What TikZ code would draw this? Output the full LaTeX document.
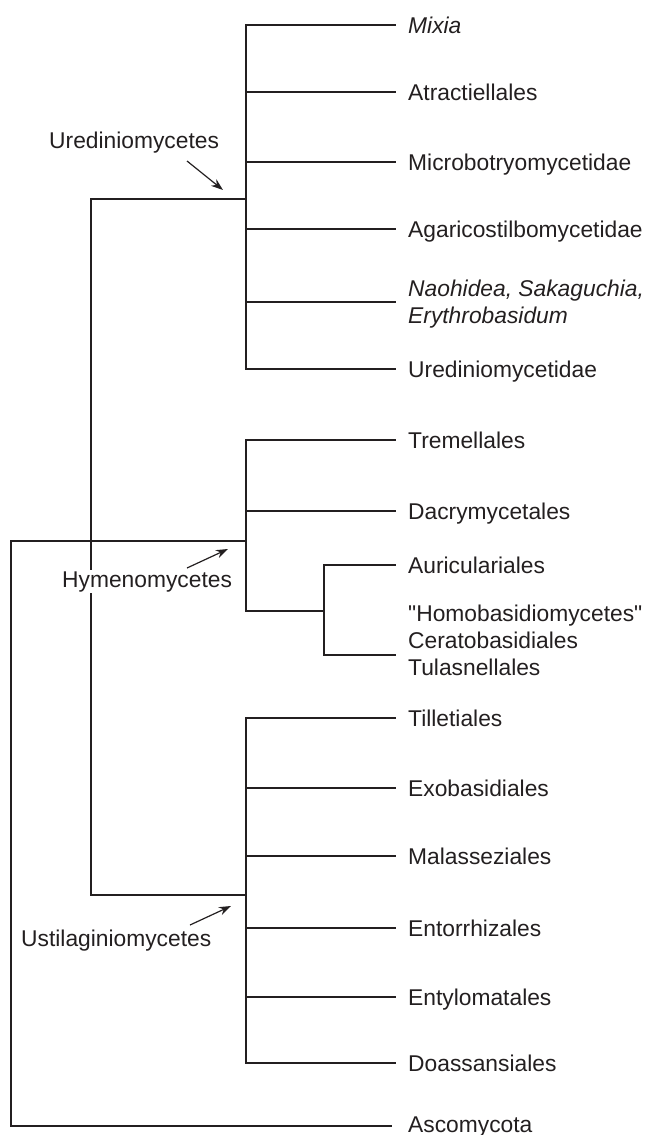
\documentclass[tikz,border=0pt]{standalone}
\usepackage{fontspec}
\setmainfont{Liberation Sans}[Ligatures=TeXOff]
\usetikzlibrary{arrows.meta}
\definecolor{ink}{HTML}{231F20}
\begin{document}
\begin{tikzpicture}[x=1pt,y=-1pt,
  branch/.style={draw=ink,line width=1.5pt,line cap=rect},
  taxon/.style={anchor=base west,inner sep=0pt,text=ink,align=left,
     font=\fontsize{22.8}{26.8}\selectfont},
  grouplabel/.style={anchor=base west,inner sep=1pt,fill=white,text=ink,
     font=\fontsize{22.8}{26.8}\selectfont},
  pointer/.style={draw=ink,line width=1.2pt,-{Stealth[length=12pt,width=8.5pt]}}]
\useasboundingbox (0,0) rectangle (645,1135);
% ---- leaf ends
\foreach \n/\y in {mix/25,atr/92,mic/162,aga/229,nao/302,ure/369,
  tre/440,dac/511,aur/565,hom/655,
  til/718,exo/788,mal/856,ent/928,ety/997,doa/1063}
  {\coordinate (\n) at (395,\y);}
\coordinate (asc) at (391,1126);
% ---- internal nodes
\coordinate (uredJ) at (246,199);
\coordinate (hymJ) at (246,541);
\coordinate (hsubJ) at (246,611);
\coordinate (subJ) at (324,611);
\coordinate (ustJ) at (246,895);
\coordinate (basJ) at (91,199);
\coordinate (rootT) at (11,541);
% ---- Urediniomycetes
\foreach \n in {mix,atr,mic,aga,nao,ure}
  \draw[branch] (uredJ |- \n) -- (\n);
\draw[branch] (uredJ |- mix) -- (uredJ |- ure);
% ---- Hymenomycetes
\foreach \n in {tre,dac}
  \draw[branch] (hymJ |- \n) -- (\n);
\draw[branch] (hymJ |- tre) -- (hsubJ) -- (subJ);
\draw[branch] (subJ |- aur) -- (aur);
\draw[branch] (subJ |- hom) -- (hom);
\draw[branch] (subJ |- aur) -- (subJ |- hom);
% ---- Ustilaginiomycetes
\foreach \n in {til,exo,mal,ent,ety,doa}
  \draw[branch] (ustJ |- \n) -- (\n);
\draw[branch] (ustJ |- til) -- (ustJ |- doa);
% ---- backbone
\draw[branch] (uredJ) -- (basJ) -- (basJ |- ustJ) -- (ustJ);
\draw[branch] (hymJ) -- (rootT) -- (rootT |- asc) -- (asc);
% ---- leaf labels
\node[taxon] (tmix) at (408,33) {\itshape Mixia};
\node[taxon] (tatr) at (408,100) {Atractiellales};
\node[taxon] (tmic) at (408,170) {Microbotryomycetidae};
\node[taxon] (taga) at (408,237) {Agaricostilbomycetidae};
\node[taxon] (tnao) at (408,323) {\itshape Naohidea, Sakaguchia,\\\itshape Erythrobasidum};
\node[taxon] (ture) at (408,377) {Urediniomycetidae};
\node[taxon] (ttre) at (408,448) {Tremellales};
\node[taxon] (tdac) at (408,519) {Dacrymycetales};
\node[taxon] (taur) at (408,573) {Auriculariales};
\node[taxon] (thom) at (408,675) {"Homobasidiomycetes"\\Ceratobasidiales\\Tulasnellales};
\node[taxon] (ttil) at (408,726) {Tilletiales};
\node[taxon] (texo) at (408,796) {Exobasidiales};
\node[taxon] (tmal) at (408,864) {Malasseziales};
\node[taxon] (tent) at (408,936) {Entorrhizales};
\node[taxon] (tety) at (408,1005) {Entylomatales};
\node[taxon] (tdoa) at (408,1071) {Doassansiales};
\node[taxon] (tasc) at (408,1132) {Ascomycota};
% ---- group labels and pointers
\node[grouplabel] (lured) at (48,148) {Urediniomycetes};
\node[grouplabel] (lhym) at (61,587) {Hymenomycetes};
\node[grouplabel] (lust) at (20,946) {Ustilaginiomycetes};
\coordinate (pu1) at (187,161); \coordinate (pu2) at (223,190);
\coordinate (ph1) at (187,568); \coordinate (ph2) at (228,549);
\coordinate (ps1) at (190,925); \coordinate (ps2) at (231,906);
\draw[pointer] (pu1) -- (pu2);
\draw[pointer] (ph1) -- (ph2);
\draw[pointer] (ps1) -- (ps2);
\end{tikzpicture}
\end{document}
